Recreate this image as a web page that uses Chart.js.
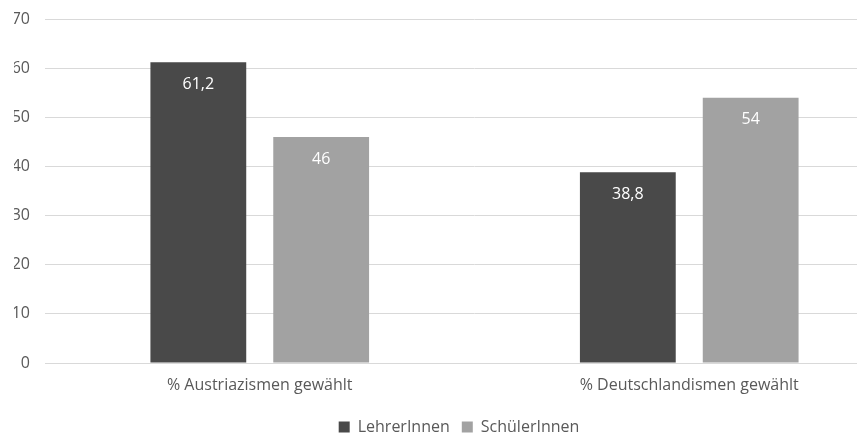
<!DOCTYPE html>
<html>
<head>
<meta charset="utf-8">
<script src="https://cdn.jsdelivr.net/npm/chart.js@4"></script>
<style>
  html, body { margin: 0; padding: 0; background: #fff; overflow: hidden; }
  #wrap { width: 920px; height: 445px; }
</style>
</head>
<body>
<div id="wrap"><canvas id="chart"></canvas></div>
<script>
const categories = ["% Austriazismen gewählt", "% Deutschlandismen gewählt"];
const seriesNames = ["LehrerInnen", "SchülerInnen"];
const lehrerValues = [61.2, 38.8];
const schuelerValues = [46, 54];
const yTicks = [0, 10, 20, 30, 40, 50, 60, 70];

const textColor = "#595959";
const fontFamily = "'Open Sans', Lato, sans-serif";

// zahlen in weiss oben in den balken
const barLabels = {
  id: "barLabels",
  afterDatasetsDraw(chart) {
    const ctx = chart.ctx;
    ctx.save();
    ctx.fillStyle = "#ffffff";
    ctx.font = "16px " + fontFamily;
    ctx.textAlign = "center";
    ctx.textBaseline = "middle";
    chart.data.datasets.forEach((ds, i) => {
      chart.getDatasetMeta(i).data.forEach((bar, j) => {
        const txt = String(ds.data[j]).replace(".", ",");
        ctx.fillText(txt, bar.x, bar.y + 22);
      });
    });
    ctx.restore();
  }
};

new Chart(document.getElementById("chart"), {
  type: "bar",
  data: {
    labels: categories,
    datasets: [
      {
        label: seriesNames[0],
        data: lehrerValues,
        backgroundColor: "#494949",
        categoryPercentage: 0.572,
        barPercentage: 0.78,
      },
      {
        label: seriesNames[1],
        data: schuelerValues,
        backgroundColor: "#a2a2a2",
        categoryPercentage: 0.572,
        barPercentage: 0.78,
      },
    ],
  },
  options: {
    responsive: true,
    maintainAspectRatio: false,
    animation: false,
    layout: { padding: { top: 0, right: 16, bottom: 0, left: 14 } },
    scales: {
      x: {
        grid: { display: false },
        border: { color: "#d9d9d9", width: 1 },
        ticks: { color: textColor, font: { family: fontFamily, size: 16 }, padding: 5 },
        afterFit: (scale) => {
          scale.height = 44;
        },
      },
      y: {
        min: 0,
        max: 70,
        afterBuildTicks: (scale) => {
          scale.ticks = yTicks.map((v) => ({ value: v }));
        },
        afterFit: (scale) => {
          scale.width = 31;
          scale.paddingTop = 19;
        },
        grid: { color: "#d9d9d9", lineWidth: 1, drawTicks: false },
        border: { display: false },
        ticks: { color: textColor, font: { family: fontFamily, size: 16 }, padding: 15 },
      },
    },
    plugins: {
      legend: {
        position: "bottom",
        labels: {
          color: textColor,
          font: { family: fontFamily, size: 16 },
          boxWidth: 11,
          boxHeight: 11,
          padding: 12,
        },
      },
      tooltip: { enabled: false },
    },
  },
  plugins: [barLabels],
});
</script>
</body>
</html>
